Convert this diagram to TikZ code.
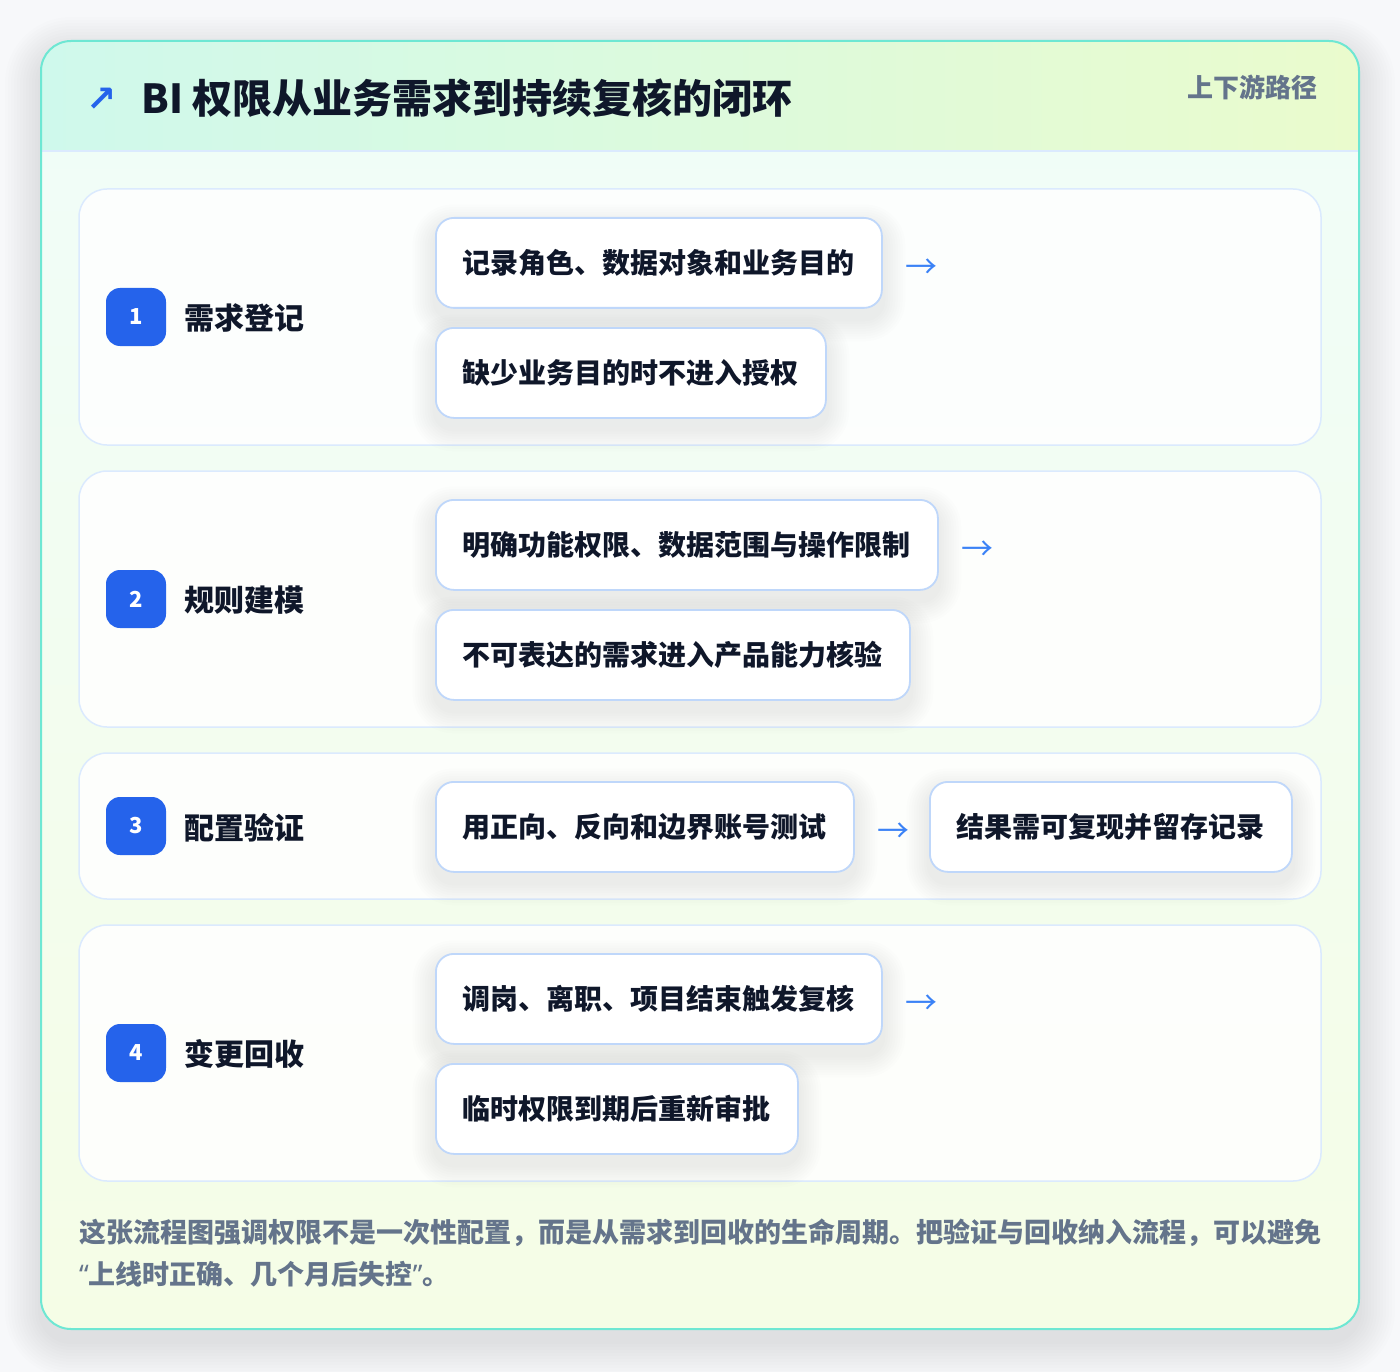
\documentclass[tikz,border=0pt]{standalone}
\usepackage{fontspec}
\setmainfont{Noto Sans CJK SC}
\newfontfamily\symfont{DejaVu Sans}
\newfontfamily\latinfont{Noto Sans}
\usetikzlibrary{calc}
\definecolor{pagebg}{HTML}{F7F8FA}
\definecolor{tealline}{HTML}{6EE7D3}
\definecolor{hdrL}{HTML}{CFF9EC}
\definecolor{hdrR}{HTML}{EAFBCD}
\definecolor{bodyT}{HTML}{F0FDF9}
\definecolor{bodyB}{HTML}{F5FDE6}
\definecolor{cardline}{HTML}{DBEAFE}
\definecolor{itemline}{HTML}{BFD7FA}
\definecolor{badgeblue}{HTML}{2563EB}
\definecolor{inkdark}{HTML}{0F172A}
\definecolor{inkgray}{HTML}{64748B}
\definecolor{arrowblue}{HTML}{3B82F6}
\definecolor{shadowc}{HTML}{1E3A5F}
\pgfdeclarelayer{bg}
\pgfdeclarelayer{shad}
\pgfsetlayers{bg,shad,main}
\tikzset{
  stepcard/.style={draw=cardline, line width=1.5pt, fill=white, fill opacity=0.85, rounded corners=28pt},
  badge/.style={fill=badgeblue, rounded corners=14pt, minimum width=60pt, minimum height=58pt, inner sep=0pt,
    text=white, font=\bfseries\fontsize{22}{22}\selectfont},
  steplabel/.style={anchor=west, inner sep=0pt, text=inkdark, font=\bfseries\fontsize{30}{30}\selectfont},
  itembox/.style={draw=itemline, line width=1.8pt, fill=white, rounded corners=18pt, minimum height=90pt,
    inner xsep=27pt, inner ysep=0pt, anchor=north west, text=inkdark, font=\bfseries\fontsize{28}{28}\selectfont},
  flowarrow/.style={anchor=west, inner sep=0pt, text=arrowblue, font=\fontsize{32}{32}\selectfont},
}
\begin{document}
\begin{tikzpicture}[x=1pt,y=-1pt]
\useasboundingbox (0,0) rectangle (1400,1372);
\begin{pgfonlayer}{bg}
\fill[pagebg] (0,0) rectangle (1400,1372);
% outer card shadow
\foreach \k [evaluate=\k as \rr using 30+\k*3] in {1,...,12}
  \fill[black, opacity=0.008, rounded corners=\rr pt] ($(41,41)+(-\k*3,-\k*3+12)$) rectangle ($(1359,1329)+(\k*3,\k*3+12)$);
\begin{scope}
\clip[rounded corners=30pt] (41,41) rectangle (1359,1329);
\shade[top color=bodyT, bottom color=bodyB] (41,41) rectangle (1359,1329);
\shade[left color=hdrL, right color=hdrR] (41,41) rectangle (1359,151);
\end{scope}
\draw[cardline, line width=1.5pt] (42,151) -- (1358,151);
\draw[tealline, line width=2pt, rounded corners=30pt] (41,41) rectangle (1359,1329);
% step cards
\draw[stepcard] (79,189) rectangle (1321,445);
\draw[stepcard] (79,471) rectangle (1321,727);
\draw[stepcard] (79,753) rectangle (1321,899);
\draw[stepcard] (79,925) rectangle (1321,1181);
\end{pgfonlayer}
% header
\node[anchor=center, inner sep=0pt, text=badgeblue, font=\symfont\bfseries\fontsize{36}{36}\selectfont] (icon) at (102,100) {↗};
\node[anchor=base west, inner sep=0pt, text=inkdark, font=\bfseries\fontsize{40}{40}\selectfont] (title) at (141,114) {BI 权限从业务需求到持续复核的闭环};
\node[anchor=base east, inner sep=0pt, text=inkgray, font=\bfseries\fontsize{26}{26}\selectfont] (route) at (1318,98) {上下游路径};
% step 1
\node[badge] (b1) at (136,317) {1};
\node[steplabel] (l1) at (184,318) {需求登记};
\node[itembox] (s1a) at (435,217) {记录角色、数据对象和业务目的};
\node[flowarrow] (a1) at ($(s1a.east)+(22,6)$) {→};
\node[itembox] (s1b) at (435,327) {缺少业务目的时不进入授权};
% step 2
\node[badge] (b2) at (136,599) {2};
\node[steplabel] (l2) at (184,600) {规则建模};
\node[itembox] (s2a) at (435,499) {明确功能权限、数据范围与操作限制};
\node[flowarrow] (a2) at ($(s2a.east)+(22,6)$) {→};
\node[itembox] (s2b) at (435,609) {不可表达的需求进入产品能力核验};
% step 3
\node[badge] (b3) at (136,826) {3};
\node[steplabel] (l3) at (184,828) {配置验证};
\node[itembox] (s3a) at (435,781) {用正向、反向和边界账号测试};
\node[flowarrow] (a3) at ($(s3a.east)+(22,6)$) {→};
\node[itembox] (s3b) at (929,781) {结果需可复现并留存记录};
% step 4
\node[badge] (b4) at (136,1053) {4};
\node[steplabel] (l4) at (184,1054) {变更回收};
\node[itembox] (s4a) at (435,953) {调岗、离职、项目结束触发复核};
\node[flowarrow] (a4) at ($(s4a.east)+(22,6)$) {→};
\node[itembox] (s4b) at (435,1063) {临时权限到期后重新审批};
% item shadows
\begin{pgfonlayer}{shad}
\foreach \n in {s1a,s1b,s2a,s2b,s3a,s3b,s4a,s4b}{
  \foreach \k [evaluate=\k as \rr using 18+\k*2.5] in {1,...,9}
    \fill[shadowc, opacity=0.007, rounded corners=\rr pt] ($(\n.north west)+(-\k*2.5,-\k*2.5+10)$) rectangle ($(\n.south east)+(\k*2.5,\k*2.5+10)$);
}
\end{pgfonlayer}
% footer
\node[anchor=north west, inner sep=0pt, text=inkgray, align=left, font=\bfseries\fontsize{27}{42}\selectfont] (foot) at (79,1219) {这张流程图强调权限不是一次性配置，而是从需求到回收的生命周期。把验证与回收纳入流程，可以避免\\{\latinfont “}上线时正确、几个月后失控{\latinfont ”}。};
\end{tikzpicture}
\end{document}
